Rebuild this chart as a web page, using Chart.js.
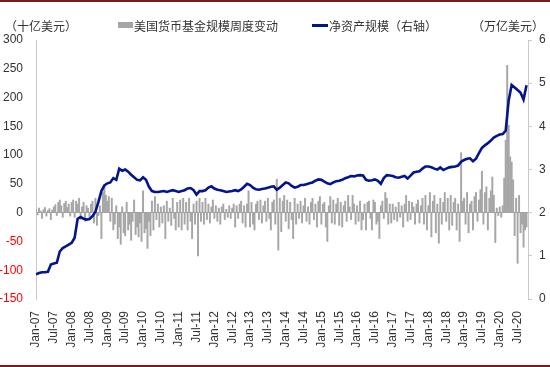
<!DOCTYPE html>
<html>
<head>
<meta charset="utf-8">
<script src="https://cdn.jsdelivr.net/npm/chart.js@4.4.0/dist/chart.umd.min.js"></script>
<style>
  html, body { margin: 0; padding: 0; background: #fff; }
  #wrap { position: relative; width: 550px; height: 367px; overflow: hidden; }
  #wrap canvas { position: absolute; left: 0; top: 0; }
  .rule { position: absolute; left: 0; width: 550px; height: 2px; background: #7a1a1c; }
  .hdr { position: absolute; top: 19px; font-family: "Noto Sans CJK SC", sans-serif; font-size: 12px; line-height: 14px; color: #333; white-space: nowrap; }
  .box { position: absolute; left: 118px; top: 22px; width: 15px; height: 6px; background: #a6a6a6; }
  .seg { position: absolute; left: 312px; top: 24px; width: 16px; height: 3px; background: #03158c; }
</style>
</head>
<body>
<div id="wrap">
  <canvas id="chart" width="550" height="367"></canvas>
  <div class="rule" style="top:0"></div>
  <div class="rule" style="bottom:0"></div>
  <div class="hdr" style="left:5px">（十亿美元）</div>
  <div class="box"></div>
  <div class="hdr" style="left:134px">美国货币基金规模周度变动</div>
  <div class="seg"></div>
  <div class="hdr" style="left:329px">净资产规模（右轴）</div>
  <div class="hdr" style="left:472px">（万亿美元）</div>
</div>
<script>
// --- ป้ายแกน X (ทุก 6 เดือน เริ่ม Jan-07) ---
const tickLabels = [
    'Jan-07', 'Jul-07', 'Jan-08', 'Jul-08', 'Jan-09', 'Jul-09', 'Jan-10', 'Jul-10',
    'Jan-11', 'Jul-11', 'Jan-12', 'Jul-12', 'Jan-13', 'Jul-13', 'Jan-14', 'Jul-14',
    'Jan-15', 'Jul-15', 'Jan-16', 'Jul-16', 'Jan-17', 'Jul-17', 'Jan-18', 'Jul-18',
    'Jan-19', 'Jul-19', 'Jan-20', 'Jul-20'
];

// weekly change (bn USD), sampled twice a month from Jan-07
const barValues = [
    6, -4, 8, 3, -10, 5, 9, -6, 4, 7, -12, 5, 10, 14, -5, 18, 22, 12, -8, 16, 20, 9, 15, -6,
    18, 22, -8, 20, 15, 25, -12, 10, 18, -15, 12, 8, -10, 15, 20, -18, 25, -22, -5, 12, -45, 35, 48, 30,
    20, 28, -15, 25, -30, -20, 12, -45, -25, -55, 10, -35, -40, 18, -30, -20, -48, -15, 22, -38, -25, -42, -18, -50,
    38, -35, -28, -62, -15, -40, 20, -30, 28, -12, 15, -25, 10, -18, 12, -45, 20, -15, 8, -22, 25, -10, -30, 18,
    -25, 22, -30, 25, -20, 18, -30, 25, -15, -45, 15, -20, 20, -75, 25, -15, 18, -20, 25, -12, 15, -18, 10, 22,
    -10, 12, -15, 8, -20, 10, 15, -12, 6, -8, 12, -10, 8, 15, -25, 12, -10, 15, 20, -18, 12, -25, 15, 38,
    -25, 18, -20, -30, 15, 20, -12, 22, -18, 12, 20, -15, 25, -10, -30, 18, 22, -20, 58, -65, 25, -33, 20, 30,
    -15, 22, -28, 18, -12, -45, 25, -20, 15, -10, 20, -18, 12, 25, -15, 10, -20, 18, 25, -12, 15, -25, 20, 28,
    -20, 15, 18, -25, -50, 12, 28, -18, 22, -20, 15, 25, -22, 18, -25, 12, 20, -15, 30, 10, -12, 30, 15, -20,
    12, -15, 20, -30, -12, 15, -30, 18, 20, -10, -30, 22, 18, -20, -15, -45, 12, 20, -10, 35, 25, -20, 15, -18,
    15, -12, 10, -15, 18, -8, 12, -25, 15, 30, -15, 20, -12, 18, 10, -20, 15, 22, -18, 12, 25, -20, 30, -30,
    12, 35, -42, 20, 30, -35, 15, -53, 25, -20, 18, 35, -15, 25, -30, 30, -22, 18, 25, -30, 15, -50, 104, 20,
    25, -20, 35, -35, 15, 20, -30, 28, 35, -15, 22, 40, 72, -20, 35, 45, -30, 25, 38, 62, 30, -52, 8, -5,
    10, -8, 12, 60, 126, 256, 152, 97, 88, 57, -40, 25, -88, 30, -35, -20, -60, -30, -25
];

// net assets (tn USD), monthly from Jan-07
const lineValues = [
    0.57, 0.60, 0.62, 0.62, 0.63, 0.80, 0.82, 0.84, 1.10, 1.18, 1.22, 1.26,
    1.30, 1.42, 1.86, 1.90, 1.86, 1.84, 1.85, 1.92, 2.02, 2.25, 2.50, 2.63,
    2.68, 2.70, 2.80, 2.76, 3.02, 2.97, 3.00, 2.95, 2.88, 2.82, 2.76, 2.75,
    2.82, 2.76, 2.60, 2.50, 2.48, 2.48, 2.49, 2.50, 2.48, 2.50, 2.52, 2.50,
    2.48, 2.50, 2.52, 2.56, 2.57, 2.52, 2.42, 2.50, 2.50, 2.52, 2.58, 2.61,
    2.56, 2.53, 2.52, 2.50, 2.48, 2.49, 2.50, 2.52, 2.50, 2.54, 2.60, 2.67,
    2.64, 2.58, 2.54, 2.53, 2.55, 2.56, 2.58, 2.60, 2.61, 2.53, 2.58, 2.64,
    2.70, 2.68, 2.62, 2.58, 2.60, 2.64, 2.64, 2.66, 2.68, 2.70, 2.74, 2.77,
    2.76, 2.72, 2.68, 2.66, 2.70, 2.73, 2.74, 2.76, 2.80, 2.82, 2.85, 2.84,
    2.86, 2.87, 2.86, 2.76, 2.74, 2.75, 2.77, 2.74, 2.67, 2.80, 2.87, 2.86,
    2.85, 2.82, 2.81, 2.83, 2.85, 2.79, 2.86, 2.93, 2.95, 2.96, 3.02, 3.07,
    3.07, 3.05, 3.02, 3.00, 3.05, 2.99, 3.02, 3.05, 3.06, 3.07, 3.09, 3.18,
    3.22, 3.25, 3.26, 3.19, 3.25, 3.38, 3.50, 3.56, 3.61, 3.67, 3.74, 3.78,
    3.81, 3.82, 3.90, 4.60, 4.96, 4.90, 4.84, 4.78, 4.62, 4.95
];

const leftTicks = [300, 250, 200, 150, 100, 50, 0, -50, -100, -150];
const rightTicks = [6, 5, 4, 3, 2, 1, 0];

const AXIS_FONT = { family: 'Liberation Sans, Arial, sans-serif', size: 12 };

const barPoints = barValues.map((v, i) => ({ x: i / 2, y: v }));
const linePoints = lineValues.map((v, i) => ({ x: i, y: v }));

new Chart(document.getElementById('chart'), {
    type: 'bar',
    data: {
        datasets: [
            {
                type: 'line',
                label: '净资产规模（右轴）',
                data: linePoints,
                yAxisID: 'y1',
                borderColor: '#03158c',
                borderWidth: 2.6,
                pointRadius: 0,
                tension: 0,
                order: 0
            },
            {
                type: 'bar',
                label: '美国货币基金规模周度变动',
                data: barPoints,
                yAxisID: 'y',
                backgroundColor: '#a6a6a6',
                barThickness: 1.3,
                order: 1
            }
        ]
    },
    options: {
        responsive: false,
        animation: false,
        layout: { padding: { top: 40, left: 0, right: 0, bottom: 0 } },
        plugins: { legend: { display: false }, tooltip: { enabled: false } },
        scales: {
            x: {
                type: 'linear',
                min: 0,
                max: 165.5,
                offset: false,
                grid: { display: false, drawTicks: false },
                border: { display: false },
                afterBuildTicks: scale => {
                    scale.ticks = tickLabels.map((_, i) => ({ value: i * 6 }));
                },
                afterFit: scale => { scale.height = 68; },
                ticks: {
                    autoSkip: false,
                    maxRotation: 90,
                    minRotation: 90,
                    padding: 12,
                    color: '#333',
                    font: AXIS_FONT,
                    callback: v => tickLabels[Math.round(v / 6)]
                }
            },
            y: {
                position: 'left',
                min: -150,
                max: 300,
                afterBuildTicks: scale => {
                    scale.ticks = leftTicks.map(v => ({ value: v }));
                },
                afterFit: scale => { scale.width = 36; },
                grid: {
                    drawTicks: false,
                    color: ctx => ctx.tick && ctx.tick.value === 0 ? '#a0a0a0' : 'rgba(0,0,0,0)'
                },
                border: { display: true, color: '#c8c8c8' },
                ticks: {
                    padding: 13,
                    font: AXIS_FONT,
                    color: ctx => ctx.tick.value < 0 ? '#ff0000' : '#333'
                }
            },
            y1: {
                position: 'right',
                min: 0,
                max: 6,
                afterBuildTicks: scale => {
                    scale.ticks = rightTicks.map(v => ({ value: v }));
                },
                afterFit: scale => { scale.width = 22; },
                grid: { drawOnChartArea: false, drawTicks: true, tickLength: 4, color: '#c8c8c8' },
                border: { display: true, color: '#c8c8c8' },
                ticks: {
                    padding: 7,
                    font: AXIS_FONT,
                    color: '#333'
                }
            }
        }
    }
});
</script>
</body>
</html>
